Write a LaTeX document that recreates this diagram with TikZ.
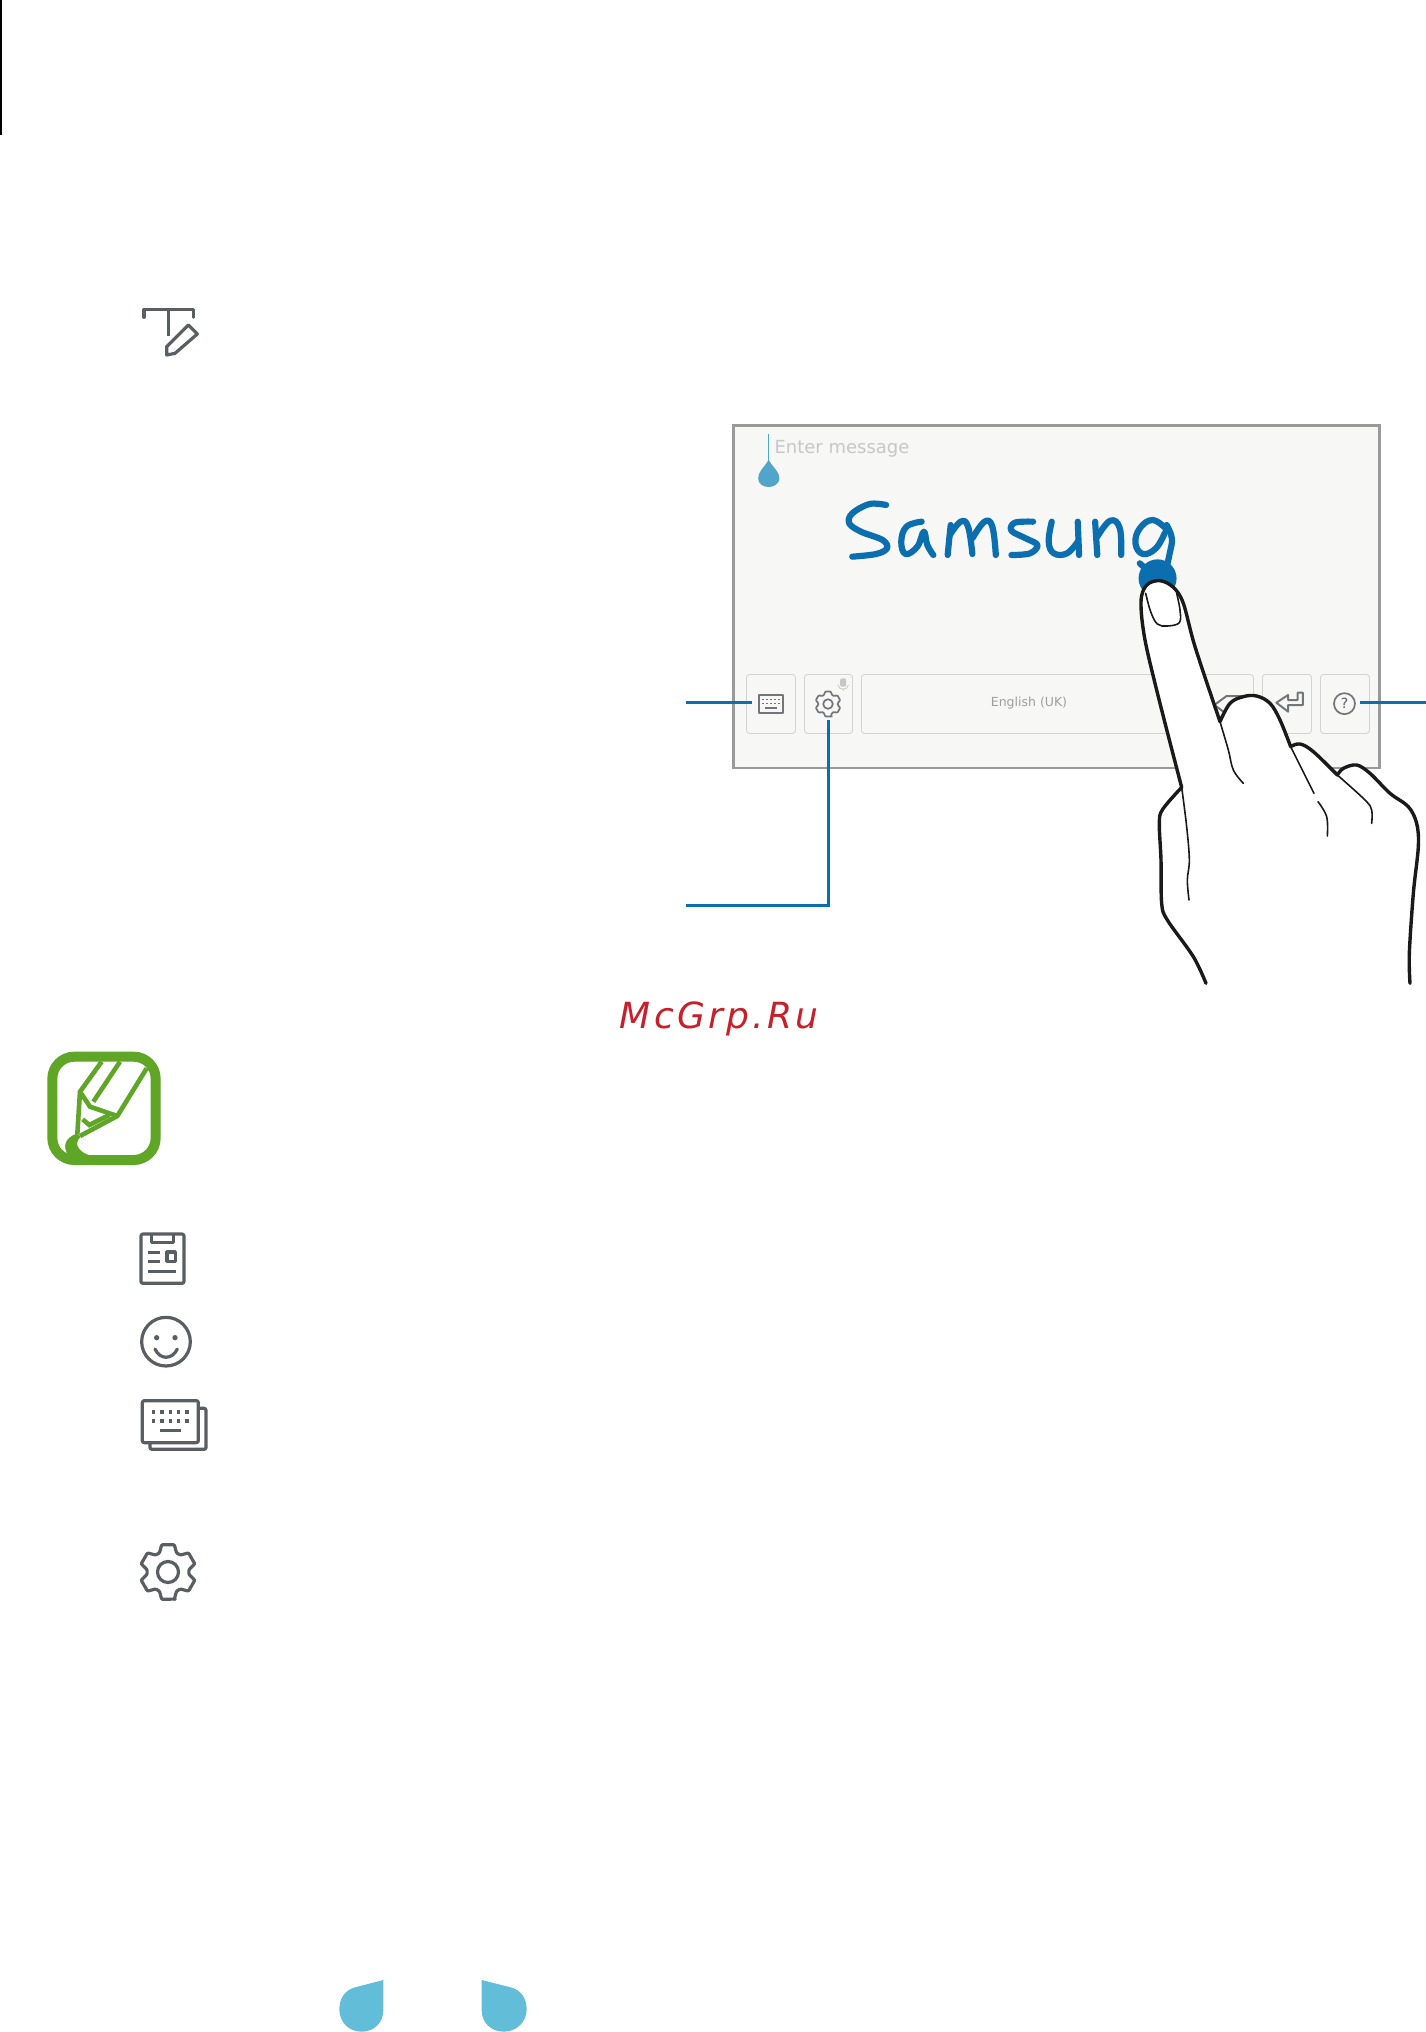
\documentclass[tikz,border=0pt]{standalone}
\usepackage{fontspec}
\setmainfont{DejaVu Sans}
\newfontfamily\wmfont[LetterSpace=9]{DejaVu Sans}
\definecolor{callout}{HTML}{0B6FAF}
\definecolor{screenbg}{HTML}{F7F7F5}
\definecolor{screenedge}{HTML}{9A9A9A}
\definecolor{keyedge}{HTML}{D2D4D2}
\definecolor{icongray}{HTML}{5A5D62}
\definecolor{noteGreen}{HTML}{5FA526}
\definecolor{dropblue}{HTML}{62BDD8}
\definecolor{handleblue}{HTML}{50A5C8}
\definecolor{wmred}{HTML}{C8202A}
\definecolor{inkblack}{HTML}{1A1A1A}
\tikzset{
 zoomone/.style={shift={(720pt,-410pt)},x=0.43365pt,y=-0.33333pt},
 zoomtwo/.style={shift={(1080pt,-560pt)},x=0.33333pt,y=-0.33333pt},
 zoomthree/.style={shift={(30pt,-1030pt)},x=0.33333pt,y=-0.33333pt},
 zoomfour/.style={shift={(120pt,-1210pt)},x=0.33333pt,y=-0.33333pt},
 zoomfive/.style={shift={(120pt,-290pt)},x=0.33333pt,y=-0.33333pt},
 zoomsix/.style={shift={(320pt,-1960pt)},x=0.33333pt,y=-0.33333pt},
 keybox/.style={draw=keyedge,line width=0.9pt,rounded corners=3pt,fill=screenbg,minimum width=#1,minimum height=59pt,inner sep=0pt,anchor=north west},
 calloutline/.style={draw=callout,line width=3pt},
 ink/.style={draw=inkblack,line width=3.4pt,line cap=round,line join=round},
 inkthin/.style={draw=inkblack,line width=1.6pt,line cap=round,line join=round},
 hand/.style={draw=callout,line width=6.2pt,line cap=round,line join=round},
 icon/.style={draw=icongray,line width=3.2pt,line join=round},
 smallicon/.style={draw=icongray!85,line width=1.7pt,line join=round},
 pencil/.style={draw=noteGreen,line width=4.6pt,line join=miter},
}
\newcommand{\geargraph}[5]{% cx cy R r line-style
 \begin{scope}[shift={(#1,#2)}]
 \draw[#5,rounded corners=0.9pt] (75:#3)
  \foreach \a in {90,30,-30,-90,-150,150}{
    -- ({\a-13}:#3) -- ({\a-24}:#4) -- ({\a-36}:#4) -- ({\a-47}:#3) } -- cycle;
 \end{scope}
}
\begin{document}
\begin{tikzpicture}[x=1pt,y=-1pt]
\useasboundingbox[fill=white] (0,0) rectangle (1426,2032);

% top-left rule
\coordinate (ruleTop) at (1,0);
\coordinate (ruleEnd) at (1,135);
\draw[black,line width=1.6pt] (ruleTop) -- (ruleEnd);

% T-pen icon
\begin{scope}[zoomfive]
 \draw[icon,line cap=round] (72,82) -- (72,58) -- (220,58) -- (220,82);
 \draw[icon] (145,58) -- (145,138);
 \draw[icon] (205,105) -- (232,132) -- (165,190) -- (140,195) -- (140,170) -- cycle;
\end{scope}

% screen
\node[draw=screenedge,fill=screenbg,line width=2.5pt,minimum width=646pt,minimum height=342.5pt,inner sep=0pt,anchor=north west] (screen) at (732,424) {};
\node[text=black!22,font=\fontsize{18}{18}\selectfont,inner sep=0pt] (hint) at (842,449) {Enter message};

% keys
\node[keybox=49pt] (keyKeyboard) at (746,674) {};
\node[keybox=48pt] (keySettings) at (804,674) {};
\node[keybox=392pt] (keySpace) at (861,674) {};
\node[keybox=49pt] (keyEnter) at (1262,674) {};
\node[keybox=49pt] (keyHelp) at (1320,674) {};
\node[text=black!38,font=\fontsize{12.5}{12.5}\selectfont,inner sep=0pt] (spaceLabel) at (1029,703) {English (UK)};

\begin{scope}[zoomone]
 % keyboard glyph
 \draw[smallicon] (90,855) rectangle (146,908);
 \foreach \x in {100,109,118,127,136}{
   \fill[icongray!85] (\x-2.5,866) rectangle (\x+2.5,871);
   \fill[icongray!85] (\x-2.5,878) rectangle (\x+2.5,883);
 }
 \draw[smallicon] (104,895) -- (132,895);
 % mic
 \fill[black!22,rounded corners=2pt] (277,805) rectangle (291,830);
 \draw[black!22,line width=0.8pt] (272,824) .. controls (272,842) and (296,842) .. (296,824);
 \draw[black!22,line width=0.8pt] (284,836) -- (284,843);
 % help
 \draw[smallicon] (1440,881) circle (10.5pt);
 \node[text=icongray,font=\fontsize{14}{14}\selectfont,inner sep=0pt] (helpMark) at (1440,881) {?};
 % backspace
 \draw[smallicon,line width=2pt] (1140,885) -- (1168,858) -- (1225,858) -- (1225,912) -- (1168,912) -- cycle;
 % enter
 \draw[smallicon,line width=2pt] (1283,878) -- (1310,855) -- (1310,870) -- (1332,870) -- (1332,848) -- (1344,848) -- (1344,885) -- (1310,885) -- (1310,905) -- cycle;
 % cursor
 \draw[handleblue,line width=0.8pt] (112,72) -- (112,155);
 \fill[handleblue] (112,150) .. controls (100,175) and (88,185) .. (88,205) .. controls (88,222) and (100,231) .. (112,231) .. controls (124,231) and (137,222) .. (137,205) .. controls (137,185) and (124,175) .. (112,150) -- cycle;
 % handwriting
 \draw[hand] plot[smooth,tension=0.6] coordinates {(383,285) (345,282) (305,310) (298,340) (325,365) (375,390) (385,415) (360,432) (305,440)};
 \draw[hand] plot[smooth,tension=0.7] coordinates {(465,335) (430,350) (418,395) (428,432) (455,410) (470,365) (478,405) (492,435)};
 \draw[hand] plot[smooth,tension=0.5] coordinates {(532,345) (528,395) (525,435)};
 \draw[hand] plot[smooth,tension=0.7] coordinates {(530,375) (555,335) (572,350) (582,432)};
 \draw[hand] plot[smooth,tension=0.7] coordinates {(582,385) (610,335) (628,350) (636,435)};
 \draw[hand] plot[smooth,tension=0.6] coordinates {(722,335) (680,338) (672,362) (705,385) (732,405) (715,430) (672,435)};
 \draw[hand] plot[smooth,tension=0.7] coordinates {(765,335) (758,395) (770,430) (800,430) (825,395)};
 \draw[hand] (825,335) -- (828,435);
 \draw[hand] (865,335) -- (870,435);
 \draw[hand] plot[smooth,tension=0.7] coordinates {(870,380) (900,332) (922,355) (925,435)};
 \draw[hand] plot[smooth,tension=0.7] coordinates {(1030,358) (998,330) (968,355) (958,400) (975,432) (1005,415) (1026,368)};
 \draw[hand] plot[smooth,tension=0.7] coordinates {(1030,345) (1042,385) (1037,430) (1030,470)};
 \draw[hand] (968,460) -- (985,480);
 % touch dot
 \fill[callout] (1009,505) circle (19pt);
\end{scope}

% connectors
\coordinate (leftEndA) at (686,702);
\coordinate (leftEndB) at (752,702);
\draw[calloutline] (leftEndA) -- (leftEndB);
\coordinate (gearTop) at (828,720);
\coordinate (gearEnd) at (686,905);
\draw[calloutline,line join=miter] (gearTop) -- (gearTop |- gearEnd) -- (gearEnd);
\coordinate (helpStart) at (1360,702);
\coordinate (helpEnd) at (1426,702);
\draw[calloutline] (helpStart) -- (helpEnd);

% small gear
\geargraph{828}{704}{12.8}{9.8}{smallicon}
\draw[smallicon] (828,704) circle (4.8);

% hand
\begin{scope}[zoomtwo]
 \draw[ink,fill=white] plot[smooth,tension=0.55] coordinates {(378,1270) (340,1190) (262,1080) (245,1030) (243,900) (238,790) (248,748) (305,682)}
   -- plot[smooth,tension=0.55] coordinates {(305,682) (240,430) (195,240) (183,125) (200,75) (240,62) (280,82) (310,130) (345,260) (420,485)}
   -- plot[smooth,tension=0.6] coordinates {(420,485) (450,430) (490,410) (530,408) (570,430) (600,480) (632,560)}
   -- plot[smooth,tension=0.6] coordinates {(632,560) (660,552) (700,575) (772,645)}
   -- plot[smooth,tension=0.55] coordinates {(772,645) (790,625) (830,615) (870,640) (930,700) (985,740) (1010,790) (1015,860) (1000,1000) (988,1180) (990,1270)};
 \draw[inkthin] plot[smooth,tension=0.6] coordinates {(305,682) (320,800) (328,900) (322,960) (327,1020)};
 \draw[inkthin] plot[smooth,tension=0.6] coordinates {(420,485) (445,570) (460,630) (490,670)};
 \draw[inkthin] (632,560) -- (702,700);
 \draw[inkthin] plot[smooth,tension=0.6] coordinates {(714,725) (740,770) (742,828)};
 \draw[inkthin] plot[smooth,tension=0.6] coordinates {(772,645) (855,720) (875,750) (875,790)};
 \draw[inkthin] plot[smooth,tension=0.6] coordinates {(197,100) (212,155) (232,192) (262,198) (298,188) (300,150) (290,100)};
\end{scope}

% watermark
\node[text=wmred,font=\fontsize{36}{36}\selectfont\wmfont\itshape,inner sep=0pt] (watermark) at (719,1019) {McGrp.Ru};

% note icon
\begin{scope}[zoomthree]
 \draw[draw=noteGreen,line width=10pt] (67,80) [rounded corners=22pt] rectangle (377,390);
 \draw[pencil] (215,95) -- (150,185) -- (142,312);
 \draw[pencil] (350,115) -- (262,258) -- (150,318);
 \draw[pencil] (270,95) -- (190,215);
 \draw[pencil] (150,185) -- (180,230) -- (262,258);
 \draw[pencil] (158,268) -- (178,285) -- (238,255);
 \fill[noteGreen] (142,310) .. controls (120,318) and (95,335) .. (110,368) .. controls (118,385) and (125,395) .. (180,392) -- (180,376) .. controls (155,370) and (125,345) .. (152,320) -- cycle;
\end{scope}

% list icons
\begin{scope}[zoomfour]
 \draw[icon,rounded corners=2pt] (63,72) rectangle (192,220);
 \draw[icon] (95,72) -- (95,97) -- (160,97) -- (160,72);
 \draw[icon] (85,128) -- (120,128);
 \draw[icon] (85,155) -- (120,155);
 \draw[icon] (141,126) rectangle (166,154);
 \draw[icon] (85,185) -- (168,185);
 \draw[icon] (138,395) circle (73);
 \fill[icongray] (110,383) circle (8);
 \fill[icongray] (165,383) circle (8);
 \draw[icon,line cap=round] (105,417) .. controls (120,450) and (156,450) .. (172,417);
 \draw[icon,rounded corners=2pt] (67,572) rectangle (235,698);
 \draw[icon,rounded corners=2pt] (235,595) -- (258,595) -- (258,718) -- (90,718) -- (90,698);
 \foreach \x in {101,126,151,176,201}{
   \fill[icongray] (\x-5,600) rectangle (\x+5,611);
   \fill[icongray] (\x-5,627) rectangle (\x+5,638);
 }
 \draw[icon] (120,662) -- (183,662);
\end{scope}
\geargraph{168}{1572}{28}{21}{icon}
\draw[icon] (168,1572) circle (10.5);

% bottom drops
\begin{scope}[zoomsix]
 \fill[dropblue] (190,60) -- (190,150) .. controls (190,190) and (160,215) .. (125,215) .. controls (85,215) and (58,185) .. (58,148) .. controls (58,115) and (75,90) .. (105,82) -- cycle;
 \fill[dropblue] (485,60) -- (485,150) .. controls (485,190) and (515,215) .. (552,215) .. controls (590,215) and (620,185) .. (620,148) .. controls (620,115) and (603,90) .. (572,82) -- cycle;
\end{scope}
\end{tikzpicture}
\end{document}
